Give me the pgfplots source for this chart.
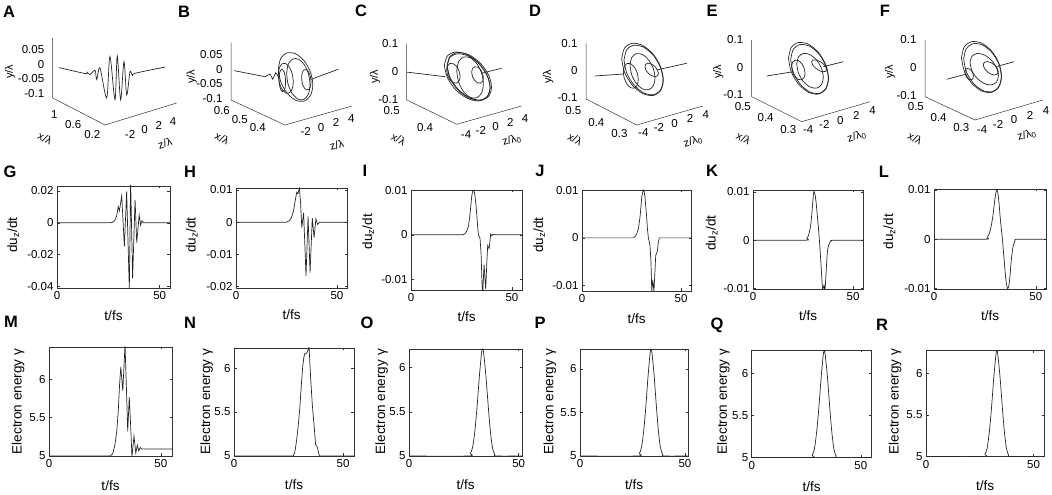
\documentclass[border=0pt]{standalone}
\usepackage{fontspec}
\setmainfont{Liberation Sans}
\setsansfont{Liberation Sans}
\usepackage{pgfplots}
\pgfplotsset{compat=1.18}
\newcommand\tfs{\fontsize{11.5pt}{13pt}\selectfont}
\newcommand\lfs{\fontsize{13.5pt}{15pt}\selectfont}
\newcommand\dfs{\fontsize{11pt}{13pt}\selectfont}
\newcommand\pfs{\fontsize{16.5pt}{18pt}\selectfont\bfseries}
\pgfplotsset{
 mat2d/.style={scale only axis, anchor=south west, xmin=0, xmax=55, xtick={0,50},
   tick align=inside, major tick length=2.5pt,
   axis line style={black!80, line width=0.5pt},
   every tick/.style={black!80, line width=0.5pt},
   scaled ticks=false,
   /pgf/number format/assume math mode=true,
   tick label style={font=\tfs, /pgf/number format/assume math mode=true, /pgf/number format/fixed, /pgf/number format/precision=3},
   label style={font=\lfs},
   xlabel={t/fs},
   xlabel style={at={(axis description cs:0.5,-0.27)}, anchor=center},
   every axis y label/.append style={anchor=center}},
 m3d/.style={anchor=south west, clip=false, axis line style={draw=none}, major tick length=0pt,
   scaled ticks=false, /pgf/number format/assume math mode=true,
   tick label style={font=\tfs, /pgf/number format/assume math mode=true, /pgf/number format/fixed, /pgf/number format/precision=3},
   zticklabel style={anchor=east, xshift=-5pt}},
 axl/.style={black!80, line width=0.5pt, no markers},
 crv/.style={black!85, line width=0.7pt, no markers},
 trj/.style={black!85, line width=0.7pt, no markers},
}
\begin{document}
\begin{tikzpicture}
\useasboundingbox (0,0) rectangle (1052pt,495pt);
% ---------------- A ----------------
\begin{axis}[m3d, at={(52.7pt,370pt)},
 x={(-47.545pt,24.545pt)}, y={(7.17pt,2.2pt)}, z={(0pt,292.68pt)},
 xmin=0.1, xmax=1.2, ymin=-5, ymax=5, zmin=-0.115, zmax=0.09,
 xtick={0.2,0.6,1}, ytick={-2,0,2,4}, ztick={-0.1,-0.05,0,0.05},
 xticklabel style={anchor=center, xshift=-8pt, yshift=-12pt},
 yticklabel style={anchor=center, xshift=3.6pt, yshift=-16pt}]
\addplot3[axl] coordinates {(1.2,-5,0.09) (1.2,-5,-0.115) (0.1,-5,-0.115) (0.1,5,-0.115)};
\addplot3[trj, smooth, tension=0.5] coordinates {(1.07,-5,0) (0.869,-2.704,-0.0208) (0.851,-2.50,-0.0165) (0.830,-2.26,-0.0245) (0.791,-1.81,-0.0100) (0.778,-1.66,-0.0419) (0.753,-1.37,-0.0021) (0.701,-0.78,-0.1050) (0.676,-0.49,0.0370) (0.637,-0.05,-0.1112) (0.619,0.15,0.0390) (0.593,0.45,-0.1115) (0.567,0.74,0.0192) (0.546,0.99,-0.0947) (0.521,1.28,-0.0153) (0.500,1.51,-0.0301) (0.482,1.72,-0.0210) (0.25,4.37,0)};
\end{axis}
% ---------------- B ----------------
\begin{axis}[m3d, at={(231pt,370pt)},
 x={(-180pt,83.33pt)}, y={(7.614pt,2.159pt)}, z={(0pt,293.85pt)},
 xmin=0.31, xmax=0.61, ymin=-4.5, ymax=4.3, zmin=-0.105, zmax=0.09,
 xtick={0.4,0.5,0.6}, ytick={-2,0,2,4}, ztick={-0.1,-0.05,0,0.05},
 xticklabel style={anchor=center, xshift=-11pt, yshift=-10pt},
 yticklabel style={anchor=center, xshift=1.7pt, yshift=-12pt}]
\addplot3[axl] coordinates {(0.61,-4.5,0.09) (0.61,-4.5,-0.105) (0.31,-4.5,-0.105) (0.31,4.3,-0.105)};
\addplot3[trj] coordinates {(0.5915,-4.504,0) (0.492,-2.824,-0.0045) (0.4757,-2.551,0.0072) (0.467,-2.404,-0.0094) (0.4573,-2.24,0.0146) (0.4466,-2.059,0)};
\addplot3[trj] coordinates {(0.3657,0.23,0) (0.3825,4.213,0)};
\addplot3[trj, smooth] coordinates {(0.5109,-0.619,0) (0.4981,-0.619,0.0395) (0.4631,-0.619,0.0684) (0.4153,-0.619,0.079) (0.3675,-0.619,0.0684) (0.3325,-0.619,0.0395) (0.3197,-0.619,0) (0.3325,-0.619,-0.0395) (0.3675,-0.619,-0.0684) (0.4153,-0.619,-0.079) (0.4631,-0.619,-0.0684) (0.4981,-0.619,-0.0395) (0.5109,-0.619,0)};
\addplot3[trj, smooth] coordinates {(0.4582,-0.787,0) (0.4495,-0.787,0.0342) (0.4257,-0.787,0.0591) (0.3932,-0.787,0.0683) (0.3607,-0.787,0.0591) (0.3369,-0.787,0.0342) (0.3282,-0.787,0) (0.3369,-0.787,-0.0342) (0.3607,-0.787,-0.0591) (0.3932,-0.787,-0.0683) (0.4257,-0.787,-0.0591) (0.4495,-0.787,-0.0342) (0.4582,-0.787,0)};
\addplot3[trj, smooth] coordinates {(0.468,-1.646,0) (0.4624,-1.646,0.0249) (0.4472,-1.646,0.043) (0.4263,-1.646,0.0497) (0.4054,-1.646,0.043) (0.3902,-1.646,0.0249) (0.3846,-1.646,0) (0.3902,-1.646,-0.0249) (0.4054,-1.646,-0.043) (0.4263,-1.646,-0.0497) (0.4472,-1.646,-0.043) (0.4624,-1.646,-0.0249) (0.468,-1.646,0)};
\addplot3[trj, smooth] coordinates {(0.4356,-2.318,0) (0.4331,-2.318,0.0189) (0.4265,-2.318,0.0327) (0.4173,-2.318,0.0378) (0.4081,-2.318,0.0327) (0.4015,-2.318,0.0189) (0.399,-2.318,0) (0.4015,-2.318,-0.0189) (0.4081,-2.318,-0.0327) (0.4173,-2.318,-0.0378) (0.4265,-2.318,-0.0327) (0.4331,-2.318,-0.0189) (0.4356,-2.318,0)};
\addplot3[trj, smooth] coordinates {(0.3987,-0.223,0) (0.3952,-0.223,0.0172) (0.3857,-0.223,0.0297) (0.3726,-0.223,0.0343) (0.3595,-0.223,0.0297) (0.35,-0.223,0.0172) (0.3465,-0.223,0) (0.35,-0.223,-0.0172) (0.3595,-0.223,-0.0297) (0.3726,-0.223,-0.0343) (0.3857,-0.223,-0.0297) (0.3952,-0.223,-0.0172) (0.3987,-0.223,0)};
\end{axis}
% ---------------- C ----------------
\begin{axis}[m3d, at={(406.7pt,370.7pt)},
 x={(-333.3pt,162pt)}, y={(7.386pt,2.08pt)}, z={(0pt,280pt)},
 xmin=0.35, xmax=0.5001, ymin=-4.6, ymax=4.2, zmin=-0.1001, zmax=0.1001,
 xtick={0.4,0.5}, ytick={-4,-2,0,2,4}, ztick={-0.1,0,0.1},
 xticklabel style={anchor=center, xshift=-15pt, yshift=-11pt},
 yticklabel style={anchor=center, xshift=4.9pt, yshift=-11.9pt}]
\addplot3[axl] coordinates {(0.5,-4.6,0.1) (0.5,-4.6,-0.1) (0.35,-4.6,-0.1) (0.35,4.2,-0.1)};
\addplot3[trj] coordinates {(0.4989,-4.6,0) (0.4395,-2.146,0)};
\addplot3[trj] coordinates {(0.4124,1.6,0) (0.41,4.196,0)};
\addplot3[trj, smooth] coordinates {(0.4845,-0.208,0) (0.4753,-0.208,0.039) (0.4502,-0.208,0.0675) (0.4158,-0.208,0.0779) (0.3814,-0.208,0.0675) (0.3563,-0.208,0.039) (0.3471,-0.208,0) (0.3563,-0.208,-0.039) (0.3814,-0.208,-0.0675) (0.4158,-0.208,-0.0779) (0.4502,-0.208,-0.0675) (0.4753,-0.208,-0.039) (0.4845,-0.208,0)};
\addplot3[trj, smooth] coordinates {(0.4769,-0.184,0) (0.4683,-0.184,0.0372) (0.4447,-0.184,0.0643) (0.4124,-0.184,0.0743) (0.3801,-0.184,0.0643) (0.3565,-0.184,0.0372) (0.3479,-0.184,0) (0.3565,-0.184,-0.0372) (0.3801,-0.184,-0.0643) (0.4124,-0.184,-0.0743) (0.4447,-0.184,-0.0643) (0.4683,-0.184,-0.0372) (0.4769,-0.184,0)};
\addplot3[trj, smooth] coordinates {(0.4807,0,0) (0.4718,0,0.0381) (0.4474,0,0.0659) (0.4141,0,0.0761) (0.3808,0,0.0659) (0.3564,0,0.0381) (0.3475,0,0) (0.3564,0,-0.0381) (0.3808,0,-0.0659) (0.4141,0,-0.0761) (0.4474,0,-0.0659) (0.4718,0,-0.0381) (0.4807,0,0)};
\addplot3[trj, smooth] coordinates {(0.4637,-0.835,0) (0.461,-0.835,0.0169) (0.4537,-0.835,0.0293) (0.4436,-0.835,0.0338) (0.4335,-0.835,0.0293) (0.4262,-0.835,0.0169) (0.4235,-0.835,0) (0.4262,-0.835,-0.0169) (0.4335,-0.835,-0.0293) (0.4436,-0.835,-0.0338) (0.4537,-0.835,-0.0293) (0.461,-0.835,-0.0169) (0.4637,-0.835,0)};
\addplot3[trj, smooth] coordinates {(0.4487,-0.144,0) (0.4434,-0.144,0.0353) (0.4288,-0.144,0.0611) (0.4088,-0.144,0.0706) (0.3888,-0.144,0.0611) (0.3742,-0.144,0.0353) (0.3689,-0.144,0) (0.3742,-0.144,-0.0353) (0.3888,-0.144,-0.0611) (0.4088,-0.144,-0.0706) (0.4288,-0.144,-0.0611) (0.4434,-0.144,-0.0353) (0.4487,-0.144,0)};
\addplot3[trj, smooth] coordinates {(0.4278,0.94,0) (0.4255,0.94,0.014) (0.4191,0.94,0.0242) (0.4104,0.94,0.0279) (0.4017,0.94,0.0242) (0.3953,0.94,0.014) (0.393,0.94,0) (0.3953,0.94,-0.014) (0.4017,0.94,-0.0242) (0.4104,0.94,-0.0279) (0.4191,0.94,-0.0242) (0.4255,0.94,-0.014) (0.4278,0.94,0)};
\end{axis}
% ---------------- D ----------------
\begin{axis}[m3d, at={(586pt,370pt)},
 x={(-230.45pt,118.18pt)}, y={(7.8pt,2.235pt)}, z={(0pt,271.7pt)},
 xmin=0.29, xmax=0.51, ymin=-4.3, ymax=4.2, zmin=-0.105, zmax=0.1001,
 xtick={0.3,0.4,0.5}, ytick={-4,-2,0,2,4}, ztick={-0.1,0,0.1},
 xticklabel style={anchor=center, xshift=-15pt, yshift=-10.2pt},
 yticklabel style={anchor=center, xshift=4.3pt, yshift=-8pt}]
\addplot3[axl] coordinates {(0.51,-4.3,0.1) (0.51,-4.3,-0.105) (0.29,-4.3,-0.105) (0.29,4.2,-0.105)};
\addplot3[trj] coordinates {(0.466,-4.447,0) (0.4328,-1.80,0)};
\addplot3[trj] coordinates {(0.4026,1.59,0) (0.3607,4.2,0.0214)};
\addplot3[trj, smooth] coordinates {(0.5182,0.5185,0) (0.5061,0.5185,0.0442) (0.4731,0.5185,0.0765) (0.4279,0.5185,0.0883) (0.3827,0.5185,0.0765) (0.3497,0.5185,0.0442) (0.3376,0.5185,0) (0.3497,0.5185,-0.0442) (0.3827,0.5185,-0.0765) (0.4279,0.5185,-0.0883) (0.4731,0.5185,-0.0765) (0.5061,0.5185,-0.0442) (0.5182,0.5185,0)};
\addplot3[trj, smooth] coordinates {(0.5077,0.5045,0) (0.4964,0.5045,0.042) (0.4654,0.5045,0.0727) (0.4231,0.5045,0.0839) (0.3808,0.5045,0.0727) (0.3498,0.5045,0.042) (0.3385,0.5045,0) (0.3498,0.5045,-0.042) (0.3808,0.5045,-0.0727) (0.4231,0.5045,-0.0839) (0.4654,0.5045,-0.0727) (0.4964,0.5045,-0.042) (0.5077,0.5045,0)};
\addplot3[trj, smooth] coordinates {(0.4439,-1.47,0) (0.4395,-1.47,0.0219) (0.4277,-1.47,0.0379) (0.4114,-1.47,0.0438) (0.3951,-1.47,0.0379) (0.3833,-1.47,0.0219) (0.3789,-1.47,0) (0.3833,-1.47,-0.0219) (0.3951,-1.47,-0.0379) (0.4114,-1.47,-0.0438) (0.4277,-1.47,-0.0379) (0.4395,-1.47,-0.0219) (0.4439,-1.47,0)};
\addplot3[trj, smooth] coordinates {(0.4696,0.149,0) (0.4623,0.149,0.0316) (0.4425,0.149,0.0546) (0.4154,0.149,0.0631) (0.3883,0.149,0.0546) (0.3685,0.149,0.0316) (0.3612,0.149,0) (0.3685,0.149,-0.0316) (0.3883,0.149,-0.0546) (0.4154,0.149,-0.0631) (0.4425,0.149,-0.0546) (0.4623,0.149,-0.0316) (0.4696,0.149,0)};
\addplot3[trj, smooth] coordinates {(0.4395,1.179,0) (0.4356,1.179,0.0106) (0.425,1.179,0.0184) (0.4104,1.179,0.0212) (0.3958,1.179,0.0184) (0.3852,1.179,0.0106) (0.3813,1.179,0) (0.3852,1.179,-0.0106) (0.3958,1.179,-0.0184) (0.4104,1.179,-0.0212) (0.425,1.179,-0.0184) (0.4356,1.179,-0.0106) (0.4395,1.179,0)};
\end{axis}
% ---------------- E ----------------
\begin{axis}[m3d, at={(751.7pt,373.3pt)},
 x={(-227.27pt,113.64pt)}, y={(8.035pt,2.353pt)}, z={(0pt,275.24pt)},
 xmin=0.29, xmax=0.51, ymin=-4.3, ymax=4.2, zmin=-0.106, zmax=0.1001,
 xtick={0.3,0.4,0.5}, ytick={-4,-2,0,2,4}, ztick={-0.1,0,0.1},
 xticklabel style={anchor=center, xshift=-11.1pt, yshift=-8.5pt},
 yticklabel style={anchor=center, xshift=4.1pt, yshift=-8.6pt}]
\addplot3[axl] coordinates {(0.51,-4.3,0.1) (0.51,-4.3,-0.106) (0.29,-4.3,-0.106) (0.29,4.2,-0.106)};
\addplot3[trj] coordinates {(0.4386,-4.454,0) (0.4192,-1.691,0)};
\addplot3[trj] coordinates {(0.3982,1.448,0) (0.3934,3.803,0)};
\addplot3[trj, smooth] coordinates {(0.5014,0.0355,0) (0.4896,0.0355,0.0436) (0.4574,0.0355,0.0755) (0.4134,0.0355,0.0872) (0.3694,0.0355,0.0755) (0.3372,0.0355,0.0436) (0.3254,0.0355,0) (0.3372,0.0355,-0.0436) (0.3694,0.0355,-0.0755) (0.4134,0.0355,-0.0872) (0.4574,0.0355,-0.0755) (0.4896,0.0355,-0.0436) (0.5014,0.0355,0)};
\addplot3[trj, smooth] coordinates {(0.4905,0.004,0) (0.4794,0.004,0.0414) (0.4492,0.004,0.0717) (0.4078,0.004,0.0828) (0.3664,0.004,0.0717) (0.3362,0.004,0.0414) (0.3251,0.004,0) (0.3362,0.004,-0.0414) (0.3664,0.004,-0.0717) (0.4078,0.004,-0.0828) (0.4492,0.004,-0.0717) (0.4794,0.004,-0.0414) (0.4905,0.004,0)};
\addplot3[trj, smooth] coordinates {(0.45,-1.032,0) (0.446,-1.032,0.0171) (0.4353,-1.032,0.0296) (0.4205,-1.032,0.0342) (0.4057,-1.032,0.0296) (0.395,-1.032,0.0171) (0.391,-1.032,0) (0.395,-1.032,-0.0171) (0.4057,-1.032,-0.0296) (0.4205,-1.032,-0.0342) (0.4353,-1.032,-0.0296) (0.446,-1.032,-0.0171) (0.45,-1.032,0)};
\addplot3[trj, smooth] coordinates {(0.4555,-0.239,0) (0.4477,-0.239,0.0294) (0.4263,-0.239,0.0509) (0.397,-0.239,0.0588) (0.3677,-0.239,0.0509) (0.3463,-0.239,0.0294) (0.3385,-0.239,0) (0.3463,-0.239,-0.0294) (0.3677,-0.239,-0.0509) (0.397,-0.239,-0.0588) (0.4263,-0.239,-0.0509) (0.4477,-0.239,-0.0294) (0.4555,-0.239,0)};
\addplot3[trj, smooth] coordinates {(0.4428,1.268,0) (0.4384,1.268,0.0085) (0.4263,1.268,0.0147) (0.4098,1.268,0.017) (0.3933,1.268,0.0147) (0.3812,1.268,0.0085) (0.3768,1.268,0) (0.3812,1.268,-0.0085) (0.3933,1.268,-0.0147) (0.4098,1.268,-0.017) (0.4263,1.268,-0.0147) (0.4384,1.268,-0.0085) (0.4428,1.268,0)};
\end{axis}
% ---------------- F ----------------
\begin{axis}[m3d, at={(925pt,375pt)},
 x={(-227.27pt,105.9pt)}, y={(8pt,2.353pt)}, z={(0pt,275.24pt)},
 xmin=0.29, xmax=0.51, ymin=-4.3, ymax=4.2, zmin=-0.106, zmax=0.1001,
 xtick={0.3,0.4,0.5}, ytick={-4,-2,0,2,4}, ztick={-0.1,0,0.1},
 xticklabel style={anchor=center, xshift=-11.4pt, yshift=-9pt},
 yticklabel style={anchor=center, xshift=4.7pt, yshift=-10.1pt}]
\addplot3[axl] coordinates {(0.51,-4.3,0.1) (0.51,-4.3,-0.106) (0.29,-4.3,-0.106) (0.29,4.2,-0.106)};
\addplot3[trj] coordinates {(0.4049,-4.574,0) (0.4015,-2.17,0)};
\addplot3[trj] coordinates {(0.3939,1.276,0) (0.3922,3.477,0)};
\addplot3[trj, smooth] coordinates {(0.5048,0.115,0) (0.493,0.115,0.0434) (0.4608,0.115,0.0752) (0.4168,0.115,0.0868) (0.3728,0.115,0.0752) (0.3406,0.115,0.0434) (0.3288,0.115,0) (0.3406,0.115,-0.0434) (0.3728,0.115,-0.0752) (0.4168,0.115,-0.0868) (0.4608,0.115,-0.0752) (0.493,0.115,-0.0434) (0.5048,0.115,0)};
\addplot3[trj, smooth] coordinates {(0.4938,0.077,0) (0.4827,0.077,0.0413) (0.4525,0.077,0.0714) (0.4111,0.077,0.0825) (0.3697,0.077,0.0714) (0.3395,0.077,0.0413) (0.3284,0.077,0) (0.3395,0.077,-0.0413) (0.3697,0.077,-0.0714) (0.4111,0.077,-0.0825) (0.4525,0.077,-0.0714) (0.4827,0.077,-0.0413) (0.4938,0.077,0)};
\addplot3[trj, smooth] coordinates {(0.4146,-2.011,0) (0.4121,-2.011,0.0099) (0.4054,-2.011,0.0171) (0.3961,-2.011,0.0198) (0.3868,-2.011,0.0171) (0.3801,-2.011,0.0099) (0.3776,-2.011,0) (0.3801,-2.011,-0.0099) (0.3868,-2.011,-0.0171) (0.3961,-2.011,-0.0198) (0.4054,-2.011,-0.0171) (0.4121,-2.011,-0.0099) (0.4146,-2.011,0)};
\addplot3[trj, smooth] coordinates {(0.462,-0.039,0) (0.4536,-0.039,0.0261) (0.4308,-0.039,0.0451) (0.3995,-0.039,0.0521) (0.3682,-0.039,0.0451) (0.3454,-0.039,0.0261) (0.337,-0.039,0) (0.3454,-0.039,-0.0261) (0.3682,-0.039,-0.0451) (0.3995,-0.039,-0.0521) (0.4308,-0.039,-0.0451) (0.4536,-0.039,-0.0261) (0.462,-0.039,0)};
\addplot3[trj, smooth] coordinates {(0.4265,0.614,0) (0.4221,0.614,0.0104) (0.41,0.614,0.018) (0.3935,0.614,0.0208) (0.377,0.614,0.018) (0.3649,0.614,0.0104) (0.3605,0.614,0) (0.3649,0.614,-0.0104) (0.377,0.614,-0.018) (0.3935,0.614,-0.0208) (0.41,0.614,-0.018) (0.4221,0.614,-0.0104) (0.4265,0.614,0)};
\end{axis}
% ---------------- G ----------------
\begin{axis}[mat2d, at={(57pt,207pt)}, width=113pt, height=102pt,
 ymin=-0.0408, ymax=0.023, ytick={-0.04,-0.02,0,0.02},
 ylabel={du\textsubscript{z}/dt}, ylabel style={at={(axis description cs:-0.387,0.52)}}]
\addplot[crv] coordinates {(0,0) (26,0) (27,0.0003) (28,0.0012) (29,0.004) (29.8,0.0101) (30.4,0.0075) (31.5,0.0168) (32.8,-0.0147) (33.9,0.0196) (35.2,-0.0415) (35.85,0.026) (36.8,-0.0347) (38.0,0.0143) (38.8,-0.0124) (40.0,0.0048) (40.7,-0.0015) (41.3,0.0012) (42,0) (55,0)};
\end{axis}
% ---------------- H ----------------
\begin{axis}[mat2d, at={(236pt,207pt)}, width=111pt, height=100pt,
 ymin=-0.0204, ymax=0.0106, ytick={-0.02,-0.01,0,0.01},
 ylabel={du\textsubscript{z}/dt}, ylabel style={at={(axis description cs:-0.399,0.53)}}]
\addplot[crv] coordinates {(0,0) (25,0) (26.5,0.0005) (27.5,0.0015) (28.5,0.0035) (29.3,0.0065) (30.1,0.0093) (30.7,0.0088) (31.4,0.0106) (32.0,0.006) (32.6,-0.0017) (33.5,0.0029) (34.7,-0.0166) (35.7,0.0018) (36.7,-0.0156) (37.8,0.0013) (38.7,-0.0048) (39.6,0.001) (40.4,-0.0007) (41.5,0) (55,0)};
\end{axis}
% ---------------- I ----------------
\begin{axis}[mat2d, at={(411pt,205pt)}, width=111pt, height=100pt,
 ymin=-0.0124, ymax=0.01005, ytick={-0.01,0,0.01},
 ylabel={du\textsubscript{z}/dt}, ylabel style={at={(axis description cs:-0.385,0.583)}}]
\addplot[crv] coordinates {(0,0) (25.9,0) (27,0.0004) (27.6,0.0008) (28.5,0.002) (29.2,0.0045) (29.7,0.0068) (30.1,0.0087) (30.6,0.0099) (31.2,0.01) (31.7,0.0088) (32.2,0.0066) (32.6,0.0045) (33.0,0.002) (33.4,0) (34.2,-0.0008) (34.7,-0.004) (35.2,-0.011) (35.5,-0.0135) (36.2,-0.0067) (37.0,-0.0122) (37.6,-0.006) (38.0,-0.0024) (38.7,-0.0031) (39.5,0.0002) (40.1,-0.0002) (40.7,0.0001) (41.6,0) (55,0)};
\end{axis}
% ---------------- J ----------------
\begin{axis}[mat2d, at={(582pt,204pt)}, width=109pt, height=101pt,
 ymin=-0.0112, ymax=0.0101, ytick={-0.01,0,0.01},
 ylabel={du\textsubscript{z}/dt}, ylabel style={at={(axis description cs:-0.392,0.554)}}]
\addplot[crv] coordinates {(0,0) (25.9,0) (27,0.0004) (27.6,0.0008) (28.5,0.002) (29.3,0.0045) (29.8,0.0068) (30.2,0.0088) (30.9,0.0101) (31.4,0.0097) (31.8,0.0085) (32.2,0.0066) (32.6,0.0045) (33.0,0.002) (33.5,0) (34.3,-0.0015) (34.8,-0.005) (35.2,-0.0113) (35.7,-0.0089) (36.3,-0.0113) (37.2,-0.0037) (38.0,-0.0028) (38.5,-0.001) (39.0,0) (55,0)};
\end{axis}
% ---------------- K ----------------
\begin{axis}[mat2d, at={(753pt,206pt)}, width=110pt, height=99pt,
 ymin=-0.0101, ymax=0.0104, ytick={-0.01,0,0.01},
 ylabel={du\textsubscript{z}/dt}, ylabel style={at={(axis description cs:-0.375,0.563)}}]
\addplot[crv, smooth, tension=0.5] coordinates {(0,0) (26,0) (26.9,0.0003) (27.7,0.0009) (28.8,0.003) (29.3,0.005) (29.8,0.0075) (30.2,0.0094) (30.5,0.0101) (31.0,0.0095) (31.5,0.008) (32.3,0.0045) (33.2,0) (34.0,-0.005) (34.5,-0.0085) (34.8,-0.0101) (35.2,-0.0097) (35.5,-0.0093) (35.8,-0.0101) (36.1,-0.0098) (36.7,-0.0055) (37.2,-0.0024) (37.8,-0.001) (38.5,-0.0004) (39.3,-0.0001) (40.2,0) (55,0)};
\end{axis}
% ---------------- L ----------------
\begin{axis}[mat2d, at={(934pt,206pt)}, width=112pt, height=100pt,
 ymin=-0.0101, ymax=0.0102, ytick={-0.01,0,0.01},
 ylabel={du\textsubscript{z}/dt}, ylabel style={at={(axis description cs:-0.399,0.573)}}]
\addplot[crv, smooth, tension=0.5] coordinates {(0,0) (25,0) (26,0.0003) (27,0.001) (28,0.0025) (29,0.005) (29.8,0.0078) (30.4,0.0095) (30.8,0.01) (31.3,0.0095) (31.9,0.0075) (32.6,0.004) (33.6,0) (34.4,-0.004) (35.2,-0.0078) (35.8,-0.0096) (36.2,-0.01) (36.7,-0.0095) (37.3,-0.0075) (38,-0.004) (38.8,-0.0015) (39.8,-0.0003) (41,0) (55,0)};
\end{axis}
% ---------------- M ----------------
\begin{axis}[mat2d, at={(49pt,39pt)}, width=123pt, height=109pt,
 ymin=5, ymax=6.42, ytick={5,5.5,6},
 ylabel={Electron energy γ}, ylabel style={at={(axis description cs:-0.25,0.498)}}]
\addplot[crv] coordinates {(0,5) (27.3,5) (28.5,5.03) (29.5,5.15) (30.3,5.32) (31,5.6) (31.6,5.95) (32.1,6.16) (32.5,6.02) (33,5.85) (33.5,6.15) (34,6.45) (34.6,5.9) (35.2,5.32) (35.9,5.77) (36.5,5.4) (37.1,4.99) (38.0,5.26) (38.8,5.04) (39.5,5.14) (40.1,5.07) (40.8,5.11) (41.5,5.09) (55,5.09)};
\end{axis}
% ---------------- N ----------------
\begin{axis}[mat2d, at={(234pt,39pt)}, width=120pt, height=108pt,
 ymin=5, ymax=6.23, ytick={5,5.5,6},
 ylabel={Electron energy γ}, ylabel style={at={(axis description cs:-0.2275,0.503)}}]
\addplot[crv] coordinates {(0,5) (27.2,5) (28,5.06) (28.7,5.18) (29.5,5.36) (30.2,5.56) (30.9,5.82) (31.5,6.02) (32,6.12) (32.5,6.17) (33.3,6.17) (33.8,6.2) (34.4,6.24) (35.1,5.9) (35.9,5.58) (36.7,5.35) (37.4,5.13) (38.2,5.1) (39,5.01) (39.5,5) (55,5)};
\end{axis}
% ---------------- O ----------------
\begin{axis}[mat2d, at={(409pt,39pt)}, width=113pt, height=107pt, xmax=51.5,
 ymin=5, ymax=6.21, ytick={5,5.5,6},
 ylabel={Electron energy γ}, ylabel style={at={(axis description cs:-0.242,0.507)}}]
\addplot[crv, smooth, tension=0.5] coordinates {(0,5) (27,5) (28,5.03) (29,5.1) (30,5.28) (31,5.55) (32,5.88) (33,6.15) (33.5,6.21) (34,6.17) (35,5.92) (36,5.6) (37,5.3) (38,5.1) (39,5.02) (40,5) (51.5,5)};
\end{axis}
% ---------------- P ----------------
\begin{axis}[mat2d, at={(580pt,39pt)}, width=108.3pt, height=107pt, xmax=51.6,
 ymin=5, ymax=6.23, ytick={5,5.5,6},
 ylabel={Electron energy γ}, ylabel style={at={(axis description cs:-0.277,0.507)}}]
\addplot[crv, smooth, tension=0.5] coordinates {(0,5) (27.3,5) (28.3,5.03) (29.3,5.1) (30.3,5.28) (31.3,5.55) (32.3,5.88) (33.3,6.16) (33.8,6.23) (34.3,6.18) (35.3,5.93) (36.3,5.6) (37.3,5.3) (38.3,5.1) (39.3,5.02) (40.3,5) (51.6,5)};
\end{axis}
% ---------------- Q ----------------
\begin{axis}[mat2d, at={(751.7pt,37.3pt)}, width=120pt, height=107.7pt,
 ymin=5, ymax=6.28, ytick={5,5.5,6},
 ylabel={Electron energy γ}, ylabel style={at={(axis description cs:-0.237,0.52)}}]
\addplot[crv, smooth, tension=0.5] coordinates {(0,5) (26.7,5) (27.7,5.03) (28.7,5.1) (29.7,5.29) (30.7,5.57) (31.7,5.91) (32.7,6.2) (33.2,6.27) (33.7,6.22) (34.7,5.96) (35.7,5.62) (36.7,5.31) (37.7,5.1) (38.7,5.02) (39.7,5) (55,5)};
\end{axis}
% ---------------- R ----------------
\begin{axis}[mat2d, at={(926pt,38.3pt)}, width=118.3pt, height=106pt,
 ymin=5, ymax=6.27, ytick={5,5.5,6},
 ylabel={Electron energy γ}, ylabel style={at={(axis description cs:-0.262,0.519)}}]
\addplot[crv, smooth, tension=0.5] coordinates {(0,5) (26.4,5) (27.4,5.03) (28.4,5.1) (29.4,5.29) (30.4,5.57) (31.4,5.91) (32.4,6.2) (32.9,6.27) (33.4,6.22) (34.4,5.96) (35.4,5.62) (36.4,5.31) (37.4,5.1) (38.4,5.02) (39.4,5) (55,5)};
\end{axis}
% ---------------- 3D axis labels ----------------
\begin{scope}[every node/.style={font=\dfs, inner sep=0pt}]
\node[rotate=90] at (10pt,423.3pt) {y/λ};
\node[rotate=-28] at (45pt,356.5pt) {x/λ};
\node[rotate=17] at (165pt,351.7pt) {z/λ};
\node[rotate=90] at (191.7pt,418.3pt) {y/λ};
\node[rotate=-28] at (222pt,356.5pt) {x/λ};
\node[rotate=17] at (336.7pt,350pt) {z/λ};
\node[rotate=90] at (375pt,418.3pt) {y/λ};
\node[rotate=-28] at (398.5pt,356pt) {x/λ};
\node[rotate=17] at (511.7pt,355pt) {z/λ\textsubscript{0}};
\node[rotate=90] at (548.3pt,418.3pt) {y/λ};
\node[rotate=-28] at (575pt,356pt) {x/λ};
\node[rotate=17] at (693pt,353.3pt) {z/λ\textsubscript{0}};
\node[rotate=90] at (718.3pt,423.3pt) {y/λ};
\node[rotate=-28] at (743.5pt,356.5pt) {x/λ};
\node[rotate=17] at (856.7pt,358.3pt) {z/λ\textsubscript{0}};
\node[rotate=90] at (890pt,423.3pt) {y/λ};
\node[rotate=-28] at (915pt,356.5pt) {x/λ};
\node[rotate=17] at (1026.7pt,360pt) {z/λ\textsubscript{0}};
\end{scope}
% ---------------- panel letters ----------------
\begin{scope}[every node/.style={font=\pfs, inner sep=0pt}]
\node at (9pt,483pt) {A};
\node at (184pt,483pt) {B};
\node at (361pt,484pt) {C};
\node at (535pt,484pt) {D};
\node at (712pt,484pt) {E};
\node at (885pt,484pt) {F};
\node at (10pt,323pt) {G};
\node at (190pt,323pt) {H};
\node at (365pt,324pt) {I};
\node at (540pt,324pt) {J};
\node at (712pt,324pt) {K};
\node at (884pt,323pt) {L};
\node at (11pt,173pt) {M};
\node at (190pt,172pt) {N};
\node at (367pt,172pt) {O};
\node at (540pt,172pt) {P};
\node at (717pt,170pt) {Q};
\node at (882pt,170pt) {R};
\end{scope}
\end{tikzpicture}
\end{document}
